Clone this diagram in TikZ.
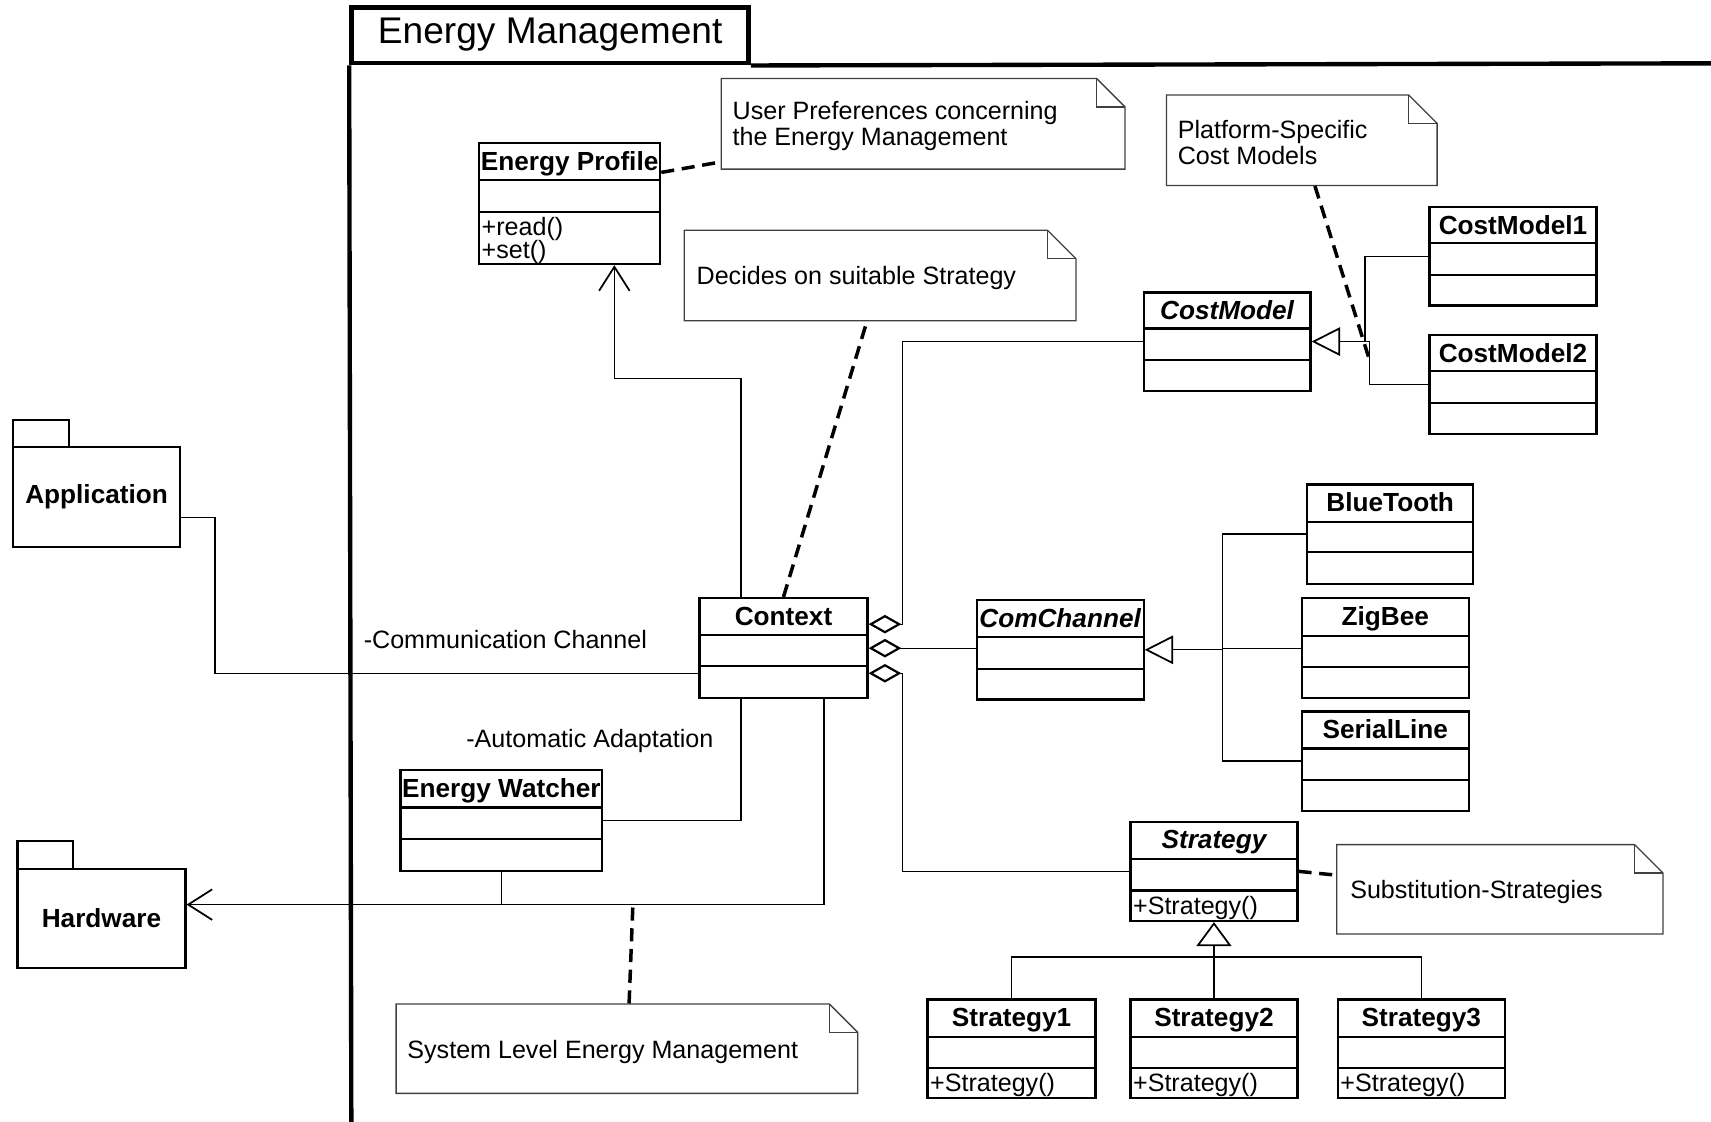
\documentclass[tikz,border=0pt]{standalone}
\usepackage{fontspec}
\setmainfont{Liberation Sans}
\usetikzlibrary{arrows.meta,calc,fit}

\tikzset{
  classbox/.style={draw,line width=1pt,inner sep=0pt},
  pkgbox/.style={draw,line width=1pt,inner sep=0pt},
  noteframe/.style={draw=black!75,line width=0.6pt},
  conn/.style={line width=0.6pt},
  notelink/.style={line width=1.6pt,dash pattern=on 6pt off 3.5pt},
  titlefont/.style={font=\fontsize{12}{14}\selectfont\bfseries,inner sep=0pt},
  bodyfont/.style={font=\fontsize{11.5}{11.5}\selectfont,inner sep=0pt,yshift=-1.5pt},
  aggr/.style={conn,{Diamond[open,length=15pt,width=8.5pt,line width=1pt]}-},
  gen/.style={conn,-{Triangle[open,length=13pt,width=13pt,line width=0.8pt,fill=white]}},
  genv/.style={conn,-{Triangle[open,length=11pt,width=16pt,line width=0.8pt,fill=white]}},
  nav/.style={conn,-{Straight Barb[length=11pt,width=14pt,line width=0.8pt]}},
}

% class box: name, left, top, right, first divider, second divider, bottom, title
\newcommand\umlclass[8]{%
  \node[classbox,fit={(#2,#3) (#4,#7)}] (#1) {};
  \draw[line width=1pt] (#2,#5) -- (#4,#5) (#2,#6) -- (#4,#6);
  \node[titlefont,anchor=base] (#1-title) at ({(#2+#4)/2},{#3+25}) {#8};
}

% note with folded corner: name, left, top, right, bottom
\newcommand\umlnote[5]{%
  \node[fit={(#2,#3) (#4,#5)},inner sep=0pt] (#1) {};
  \draw[noteframe] (#2,#3) -- ({#4-26},#3) -- (#4,{#3+26}) -- (#4,#5) -- (#2,#5) -- cycle;
  \draw[noteframe] ({#4-26},#3) |- (#4,{#3+26});
}

\begin{document}
\begin{tikzpicture}[x=0.5pt,y=-0.5pt]
\useasboundingbox (0,0) rectangle (1568,1028);

% package frame
\node[fit={(322,7) (686,58)},draw,line width=2pt,inner sep=0pt] (tab) {};
\node[font=\fontsize{17}{20}\selectfont,anchor=west,inner sep=0pt] (tabtitle) at (346,32) {Energy Management};
\draw[line width=2pt] (tab.south west) -- (322,1040);
\draw[line width=2pt] (tab.south east) -- (1580,58);

% external packages
\node[pkgbox,fit={(12,410) (165,501)}] (app) {};
\node[pkgbox,fit={(12,385) (63,410)}] (apptab) {};
\node[titlefont] (app-title) at (app.center) {Application};
\node[pkgbox,fit={(16,796) (170,887)}] (hw) {};
\node[pkgbox,fit={(16,771) (67,796)}] (hwtab) {};
\node[titlefont] (hw-title) at (hw.center) {Hardware};

% classes
\umlclass{ep}{439}{131}{605}{165}{194}{242}{Energy Profile}
\umlclass{ctx}{641}{548}{795}{582}{610}{640}{Context}
\umlclass{cm}{1048}{268}{1201}{301}{330}{358}{\itshape CostModel}
\umlclass{cm1}{1310}{190}{1463}{223}{252}{280}{CostModel1}
\umlclass{cm2}{1310}{307}{1463}{340}{369}{398}{CostModel2}
\umlclass{bt}{1198}{444}{1350}{478}{506}{535}{BlueTooth}
\umlclass{zb}{1193}{548}{1346}{583}{611}{640}{ZigBee}
\umlclass{sl}{1193}{652}{1346}{686}{715}{743}{SerialLine}
\umlclass{cc}{895}{550}{1048}{584}{613}{641}{\itshape ComChannel}
\umlclass{st}{1036}{753}{1189}{787}{816}{844}{\itshape Strategy}
\umlclass{s1}{850}{916}{1004}{950}{979}{1006}{Strategy1}
\umlclass{s2}{1036}{916}{1189}{950}{979}{1006}{Strategy2}
\umlclass{s3}{1226}{916}{1379}{950}{979}{1006}{Strategy3}
\umlclass{ew}{367}{706}{552}{740}{769}{798}{Energy Watcher}

% operations
\node[bodyfont,anchor=west] (ep-op1) at (441,207) {+read()};
\node[bodyfont,anchor=west] (ep-op2) at (441,228) {+set()};
\node[bodyfont,anchor=west] (st-op) at (1038,829) {+Strategy()};
\node[bodyfont,anchor=west] (s1-op) at (852,991) {+Strategy()};
\node[bodyfont,anchor=west] (s2-op) at (1038,991) {+Strategy()};
\node[bodyfont,anchor=west] (s3-op) at (1228,991) {+Strategy()};

% notes
\umlnote{un}{661}{72}{1031}{155}
\node[bodyfont,anchor=west,align=left] (un-text) at (671,112.5) {User Preferences concerning\\the Energy Management};
\umlnote{pn}{1069}{87}{1317}{170}
\node[bodyfont,anchor=west,align=left,font=\fontsize{11.5}{10.5}\selectfont] (pn-text) at (1079,127.5) {Platform-Specific\\Cost Models};
\umlnote{dn}{627}{211}{986}{294}
\node[bodyfont,anchor=west] (dn-text) at (638,252) {Decides on suitable Strategy};
\umlnote{sn}{1225}{774}{1524}{856}
\node[bodyfont,anchor=west] (sn-text) at (1237,814) {Substitution-Strategies};
\umlnote{sys}{363}{920}{786}{1002}
\node[bodyfont,anchor=west] (sys-text) at (373,961) {System Level Energy Management};

% role labels
\node[bodyfont,anchor=west] (lblcom) at (333,583) {-Communication Channel};
\node[bodyfont,anchor=west] (lblauto) at (427,676) {-Automatic Adaptation};

% free ends of note links
\coordinate (pnEnd) at (1256,333);
\coordinate (busPt) at (580,829);

% associations
\draw[nav] ($(ctx.north west)+(39,0)$) |- ($(ep.south)+(41,104)$) -- ($(ep.south)+(41,0)$);
\draw[conn] ($(app.south east)+(0,-28)$) -- ++(31,0) |- ($(ctx.west)+(0,23)$);
\draw[conn] ($(ctx.south west)+(39,0)$) |- (ew.east);
\draw[conn] (ew.south) -- (ew.south |- busPt);
\draw[nav] ($(ctx.south west)+(115,0)$) |- ($(hw.east)+(0,-12.5)$);

% aggregations
\draw[aggr] ($(ctx.east)+(0,-22)$) -- ++(31,0) |- (cm.west);
\draw[aggr] (ctx.east) -- (ctx.east -| cc.west);
\draw[aggr] ($(ctx.east)+(0,23)$) -- ++(31,0) |- (st.west);

% generalizations
\draw[conn] (cm2.west) -- ++(-54,0) |- ($(cm.east)+(26,0)$);
\draw[gen] (cm1.west) -- ++(-58,0) |- (cm.east);
\draw[conn] (zb.west) -- ++(-72,0);
\draw[conn] (sl.west) -- ++(-72,0) |- ($(cc.east)+(27,0)$);
\draw[gen] (bt.west) -- ++(-77,0) |- (cc.east);
\draw[conn] (s1.north) -- ++(0,-38) -| ($(st.south)+(0,22)$);
\draw[conn] (s3.north) -- ++(0,-38) -| ($(st.south)+(0,22)$);
\draw[genv] (s2.north) -- (st.south);

% note links
\draw[notelink] ($(ep.north east)+(0,28)$) -- ($(un.south west)+(0,-7)$);
\draw[notelink] (ctx.north) -- ($(dn.south)+(-12,0)$);
\draw[notelink] ($(pn.south)+(12,0)$) -- (pnEnd);
\draw[notelink] ($(sys.north)+(2,0)$) -- (busPt);
\draw[notelink] (st.east) -- ($(sn.west)+(0,-13)$);
\end{tikzpicture}
\end{document}
